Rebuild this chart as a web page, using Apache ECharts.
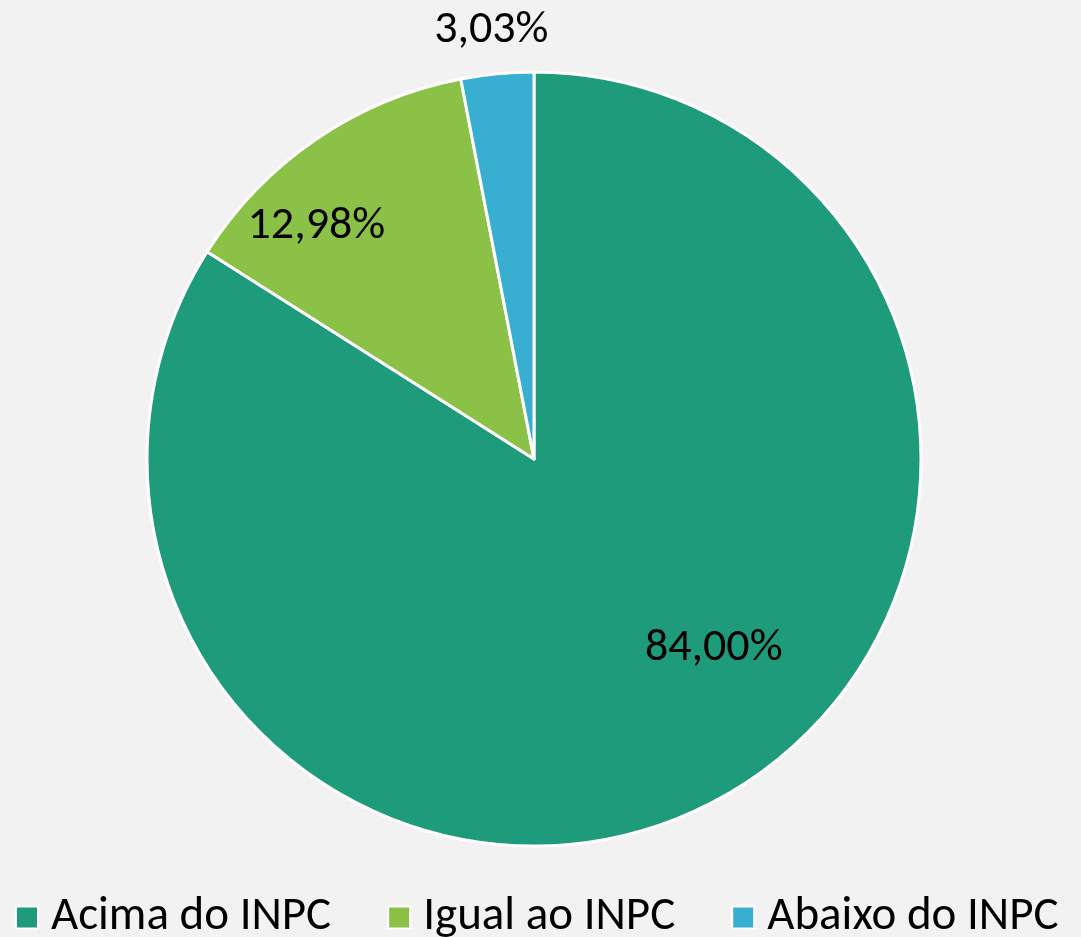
<!DOCTYPE html>
<html>
<head>
<meta charset="utf-8">
<script src="https://cdn.jsdelivr.net/npm/echarts@6/dist/echarts.min.js"></script>
<style>
  html, body { margin: 0; padding: 0; background: #f2f2f2; }
  #chart { width: 1081px; height: 937px; }
</style>
</head>
<body>
<div id="chart"></div>
<script>
// dados do gráfico
const categories = ["Acima do INPC", "Igual ao INPC", "Abaixo do INPC"];
const values = [84.00, 12.98, 3.03];
const colors = ["#1e9b7a", "#8bc147", "#38afd0"];
// deslocamento dos rótulos (posição manual como no Excel)
const labelOffsets = [[85, 17], [-107, -70], [-24, -233]];

const fontFamily = "Carlito, 'Liberation Sans Narrow', Lato, sans-serif";

const chart = echarts.init(document.getElementById("chart"), null, { renderer: "canvas" });

const pieData = categories.map((name, i) => ({
  name: name,
  value: values[i],
  itemStyle: { color: colors[i] },
  label: { offset: labelOffsets[i] }
}));

chart.setOption({
  backgroundColor: "#f2f2f2",
  animation: false,
  legend: {
    data: categories,
    left: 10,
    top: 889,
    icon: "rect",
    itemWidth: 22,
    itemHeight: 22,
    itemGap: 56,
    textStyle: { fontFamily: fontFamily, fontSize: 47, color: "#000", padding: [0, 0, 0, 8] },
    itemStyle: { borderColor: "#fff", borderWidth: 2 }
  },
  series: [
    {
      name: "INPC",
      type: "pie",
      center: [534, 459],
      radius: 387,
      startAngle: 90,
      clockwise: true,
      data: pieData,
      itemStyle: { borderColor: "#fff", borderWidth: 3 },
      label: {
        show: true,
        position: "inside",
        fontFamily: fontFamily,
        fontSize: 46,
        color: "#000",
        formatter: p => p.value.toFixed(2).replace(".", ",") + "%"
      },
      labelLine: { show: false },
      emphasis: { disabled: true }
    }
  ]
});
</script>
</body>
</html>
